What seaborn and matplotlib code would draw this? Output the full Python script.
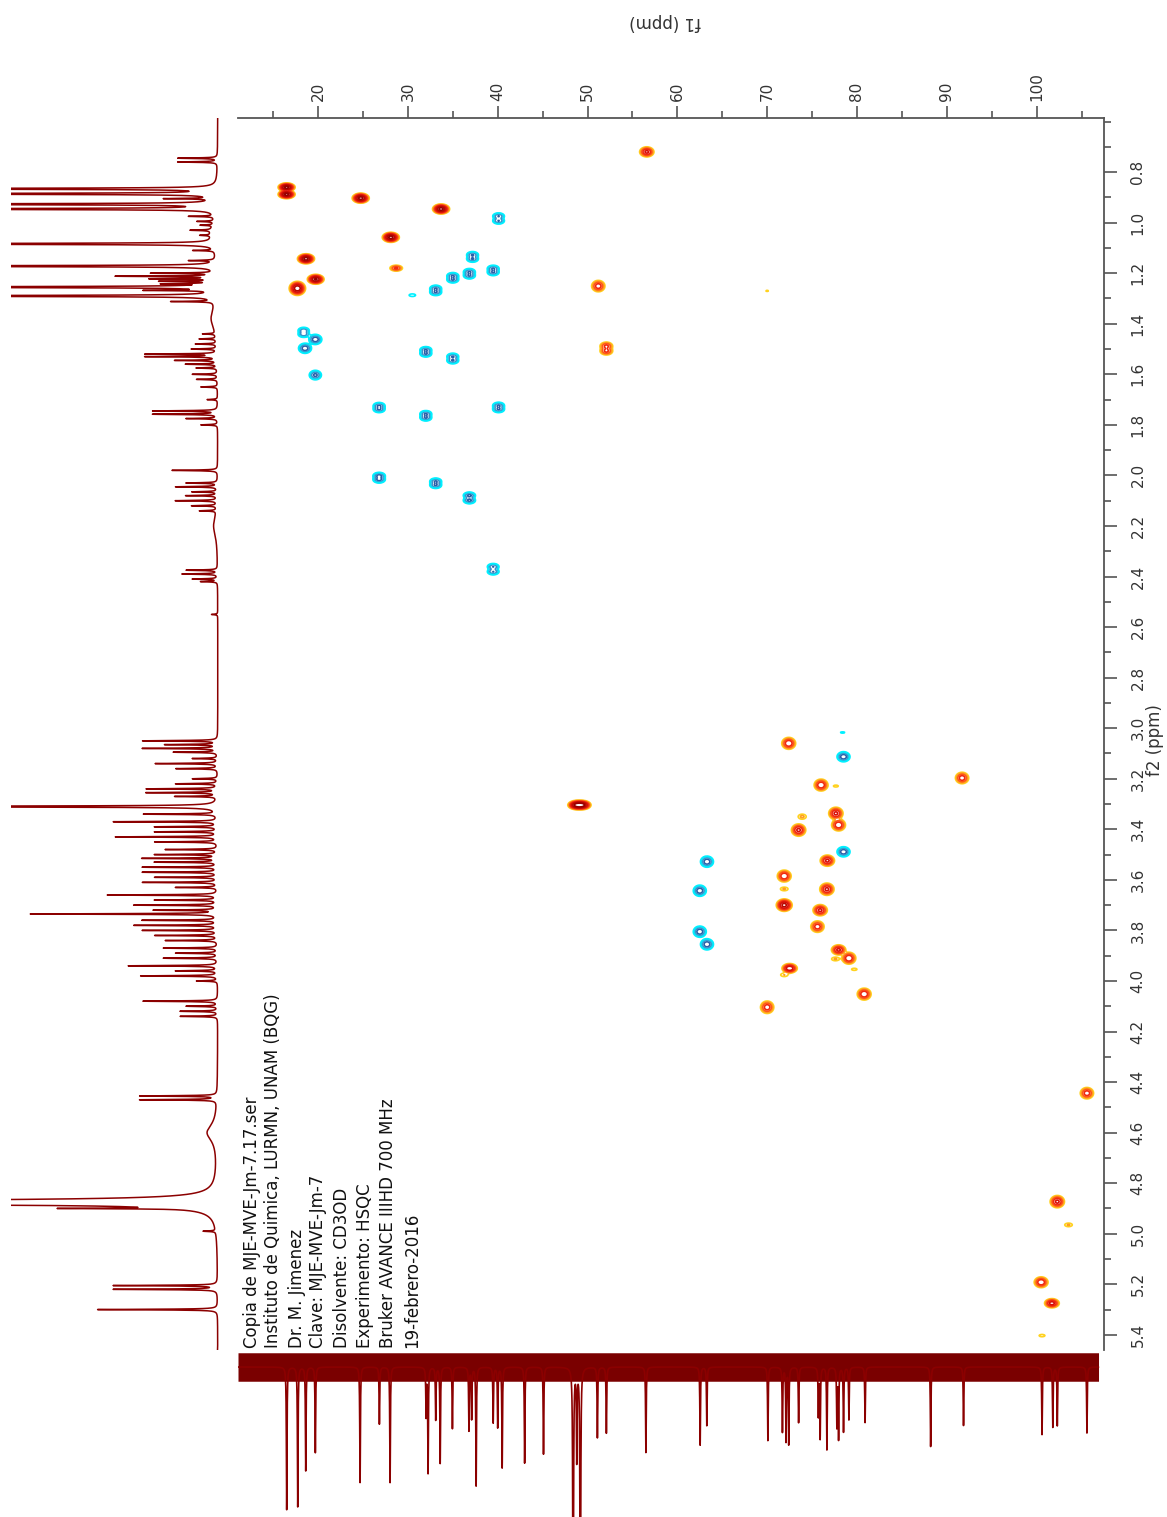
import numpy as np
import matplotlib
matplotlib.use("Agg")
import matplotlib.pyplot as plt
import matplotlib.ticker as mticker
import seaborn as sns

sns.set_style("white")
plt.rcParams["font.family"] = ["DejaVu Sans"]

# ==========================
# HSQC CROSS PEAKS
# ==========================

# positive phase (CH / CH3) : f1 13C ppm, f2 1H ppm, intensity, f2 linewidth
pos_f1 = [16.5, 16.5, 24.75, 33.7, 28.1, 28.7, 18.66, 19.74, 17.7, 51.2,
          52.1, 52.1, 56.6, 70.0, 48.7, 49.1, 49.5, 72.4, 91.7, 76.0,
          77.65, 73.9, 77.65, 77.95, 73.5, 76.7, 71.9, 71.9, 76.65, 71.9,
          75.9, 75.6, 77.95, 77.6, 79.1, 79.7, 72.5, 71.9, 80.8, 70.0,
          105.6, 102.3, 103.55, 100.5, 101.7, 100.6]
pos_f2 = [0.860, 0.888, 0.903, 0.946, 1.058, 1.180, 1.143, 1.224, 1.260, 1.251,
          1.488, 1.508, 0.720, 1.270, 3.304, 3.304, 3.304, 3.060, 3.197, 3.225,
          3.229, 3.350, 3.337, 3.383, 3.403, 3.524, 3.585, 3.636, 3.637, 3.700,
          3.720, 3.785, 3.877, 3.913, 3.910, 3.954, 3.950, 3.976, 4.052, 4.104,
          4.444, 4.873, 4.965, 5.192, 5.275, 5.403]
pos_amp = [40, 40, 40, 40, 40, 8, 40, 35, 30, 10,
           8, 8, 14, 1.3, 25, 30, 25, 12, 10, 12,
           1.6, 2.6, 14, 12, 14, 14, 12, 2.4, 14, 25,
           14, 10, 14, 2.4, 12, 1.7, 20, 2.2, 12, 10,
           10, 14, 2.4, 12, 16, 1.8]
pos_lw = [0.0065, 0.0065, 0.0075, 0.0075, 0.0075, 0.006, 0.0075, 0.0075, 0.011, 0.011,
          0.008, 0.008, 0.009, 0.006, 0.007, 0.007, 0.007, 0.011, 0.011, 0.011,
          0.005, 0.008, 0.011, 0.011, 0.011, 0.010, 0.011, 0.006, 0.011, 0.010,
          0.010, 0.011, 0.009, 0.006, 0.011, 0.005, 0.008, 0.006, 0.011, 0.012,
          0.011, 0.011, 0.006, 0.010, 0.008, 0.005]

# negative phase (CH2)
neg_f1 = [40.1, 40.1, 37.2, 37.2, 39.5, 39.5, 36.85, 36.85, 35.0, 35.0,
          33.1, 33.1, 30.5, 18.4, 18.4, 19.7, 18.55, 19.7, 32.0, 32.0,
          35.0, 35.0, 26.8, 26.8, 32.0, 32.0, 40.1, 40.1, 26.8, 26.8,
          33.1, 33.1, 36.85, 36.85, 39.5, 39.5, 78.4, 78.5, 78.5, 63.3,
          62.5, 62.5, 63.3]
neg_f2 = [0.974, 0.993, 1.127, 1.144, 1.181, 1.197, 1.194, 1.210, 1.210, 1.226,
          1.260, 1.276, 1.287, 1.426, 1.442, 1.462, 1.497, 1.603, 1.503, 1.519,
          1.529, 1.546, 1.724, 1.739, 1.756, 1.772, 1.723, 1.739, 2.001, 2.017,
          2.023, 2.039, 2.079, 2.099, 2.361, 2.381, 3.017, 3.113, 3.489, 3.528,
          3.643, 3.805, 3.855]
neg_amp = [-6, -6, -6, -6, -6, -6, -6, -6, -6, -6,
           -6, -6, -2.0, -5, -5, -9, -9, -7, -6, -6,
           -6, -6, -6, -6, -6, -6, -6, -6, -7, -7,
           -6, -6, -7, -7, -6, -6, -1.5, -9, -9, -9,
           -9, -9, -9]
neg_lw = [0.007] * 12 + [0.005, 0.007, 0.007, 0.010, 0.010, 0.010] + [0.007] * 18 + \
         [0.004, 0.010, 0.010, 0.011, 0.011, 0.011, 0.011]

# ==========================
# 1H PROJECTION (ppm, height)
# ==========================

h1_ppm = [0.745, 0.760,
          0.866, 0.886, 0.905, 0.927, 0.946, 0.975,
          0.995, 1.010, 1.030, 1.050,
          1.084, 1.110, 1.150, 1.172,
          1.200, 1.212, 1.222, 1.232, 1.242,
          1.255, 1.268, 1.290, 1.312,
          1.440, 1.460, 1.480, 1.500,
          1.520, 1.530, 1.545, 1.560, 1.575, 1.600, 1.620, 1.650,
          1.700, 1.745, 1.758, 1.775, 1.800,
          1.980, 2.030, 2.045, 2.065, 2.080, 2.100, 2.120, 2.140,
          2.375, 2.390, 2.410, 2.420,
          2.550,
          3.050, 3.065, 3.080, 3.095, 3.120, 3.140, 3.160, 3.200, 3.220, 3.240, 3.255, 3.270,
          3.310, 3.340, 3.370, 3.390, 3.410, 3.430, 3.450, 3.480, 3.500, 3.515,
          3.530, 3.550, 3.570, 3.590, 3.610, 3.630, 3.660, 3.680, 3.700, 3.720,
          3.735, 3.760, 3.780, 3.800, 3.820, 3.840, 3.870, 3.890, 3.910, 3.940,
          3.960, 3.980, 4.000, 4.080, 4.100, 4.120, 4.140,
          4.455, 4.470,
          4.885, 4.900,
          4.990,
          5.205, 5.220, 5.300,
          5.470]
h1_int = [0.19, 0.19,
          3, 3, 0.22, 3, 3, 0.12,
          0.08, 0.06, 0.10, 0.05,
          3, 0.10, 0.12, 3,
          0.30, 0.47, 0.30, 0.25, 0.22,
          3, 0.30, 3, 0.20,
          0.06, 0.08, 0.10, 0.12,
          0.34, 0.34, 0.20, 0.15, 0.10, 0.12, 0.10, 0.08,
          0.05, 0.31, 0.31, 0.15, 0.08,
          0.22, 0.15, 0.20, 0.12, 0.15, 0.20, 0.12, 0.08,
          0.15, 0.17, 0.12, 0.08,
          0.03,
          0.36, 0.25, 0.36, 0.21, 0.12, 0.30, 0.20, 0.12, 0.20, 0.34, 0.34, 0.20,
          3, 0.35, 0.50, 0.30, 0.30, 0.49, 0.30, 0.25, 0.30, 0.36,
          0.30, 0.36, 0.36, 0.30, 0.36, 0.20, 0.53, 0.30, 0.40, 0.30,
          0.90, 0.36, 0.40, 0.36, 0.30, 0.25, 0.26, 0.20, 0.26, 0.43,
          0.20, 0.37, 0.10, 0.36, 0.15, 0.18, 0.18,
          0.37, 0.37,
          0.85, 0.55,
          0.06,
          0.50, 0.50, 0.58,
          0.05]

# broad features (HDO, humps): ppm, height, half width
h1_broad_ppm = [4.875, 4.600, 1.380, 2.200, 1.040]
h1_broad_int = [4.0, 0.05, 0.03, 0.02, 0.03]
h1_broad_hw = [0.006, 0.04, 0.05, 0.05, 0.04]

# ==========================
# 13C PROJECTION (ppm, depth)
# ==========================

c13_ppm = [16.51, 17.74, 18.63, 19.70, 24.68, 26.83, 28.02, 32.03, 32.25, 33.1,
           33.6, 34.96, 36.8, 37.1, 37.6, 39.5, 40.0, 40.5, 43.0, 45.1,
           48.4, 48.8, 49.2,
           51.1, 52.1, 56.5, 62.54, 63.28, 70.08, 71.7, 72.1, 72.4, 73.5,
           75.7, 75.9, 76.65, 77.76, 77.95, 78.5, 79.1, 80.9, 88.2, 91.86,
           100.6, 101.8, 102.3, 105.6]
c13_int = [0.95, 0.93, 0.69, 0.57, 0.77, 0.38, 0.77, 0.32, 0.70, 0.35,
           0.64, 0.41, 0.42, 0.34, 0.79, 0.37, 0.40, 0.67, 0.64, 0.58,
           2.5, 0.6, 2.5,
           0.47, 0.44, 0.57, 0.52, 0.39, 0.49, 0.43, 0.49, 0.51, 0.37,
           0.32, 0.47, 0.55, 0.39, 0.47, 0.43, 0.35, 0.37, 0.53, 0.39,
           0.45, 0.40, 0.39, 0.44]

info_lines = ["Copia de MJE-MVE-Jm-7.17.ser",
              "Instituto de Quimica, LURMN, UNAM (BQG)",
              "Dr. M. Jimenez",
              "Clave: MJE-MVE-Jm-7",
              "Disolvente: CD3OD",
              "Experimento: HSQC",
              "Bruker AVANCE IIIHD 700 MHz",
              "19-febrero-2016"]

# ==========================
# AXIS RANGES
# ==========================

F1_MIN, F1_MAX = 11.09, 107.5
F2_MIN, F2_MAX = 0.586, 5.46
LINE = "#8b0000"

# ==========================
# FIGURE
# ==========================

W, H = 1167, 1517
fig = plt.figure(figsize=(W / 100, H / 100), dpi=100)


def box(x0, y0, x1, y1):
    return [x0 / W, 1 - y1 / H, (x1 - x0) / W, (y1 - y0) / H]


ax = fig.add_axes(box(238, 118, 1104, 1350))
ax_h = fig.add_axes(box(11, 118, 223, 1350))
ax_c = fig.add_axes(box(238, 1340, 1104, 1517))
for a in (ax, ax_h, ax_c):
    a.patch.set_visible(False)

# ---- 2D contours
f1 = np.arange(F1_MIN - 0.2, F1_MAX + 0.2, 0.08)
f2 = np.arange(F2_MIN - 0.01, F2_MAX + 0.01, 0.0025)
SX = 0.36
Z = np.zeros((len(f2), len(f1)))
for c, h, a, s in zip(pos_f1 + neg_f1, pos_f2 + neg_f2, pos_amp + neg_amp, pos_lw + neg_lw):
    gx = np.exp(-0.5 * ((f1 - c) / SX) ** 2)
    gy = np.exp(-0.5 * ((f2 - h) / s) ** 2)
    Z += a * np.outer(gy, gx)

pos_levels = [1.2, 2.2, 4, 7, 12, 20, 32]
pos_colors = ["#ffd21f", "#ffa020", "#ff5a14", "#f02a10", "#d81008", "#b80800", "#990000"]
neg_levels = [-6, -3.5, -2, -1.2]
neg_colors = ["#2a5fa8", "#3a8fc8", "#18c8ec", "#00f0ff"]
ax.contour(f1, f2, Z, levels=pos_levels, colors=pos_colors, linewidths=1.2)
ax.contour(f1, f2, Z, levels=neg_levels, colors=neg_colors, linewidths=1.2)

ax.set_xlim(F1_MIN, F1_MAX)
ax.set_ylim(F2_MAX, F2_MIN)

for side in ("left", "bottom"):
    ax.spines[side].set_visible(False)
for side in ("top", "right"):
    ax.spines[side].set_visible(True)
    ax.spines[side].set_color("#555555")
    ax.spines[side].set_linewidth(1.3)

ax.xaxis.set_major_locator(mticker.MultipleLocator(10))
ax.xaxis.set_minor_locator(mticker.MultipleLocator(5))
ax.xaxis.set_major_formatter(mticker.FormatStrFormatter("%d"))
ax.yaxis.set_major_locator(mticker.FixedLocator(np.round(np.arange(0.8, 5.41, 0.2), 1)))
ax.yaxis.set_minor_locator(mticker.FixedLocator(np.round(np.arange(0.6, 5.45, 0.1), 1)))
ax.yaxis.set_major_formatter(mticker.FormatStrFormatter("%.1f"))

ax.tick_params(axis="x", which="both", top=True, bottom=False, labeltop=True, labelbottom=False,
               direction="out", colors="#555555", labelcolor="#333333", labelsize=11,
               labelrotation=90, pad=3, width=1.2)
ax.tick_params(axis="y", which="both", right=True, left=False, labelright=True, labelleft=False,
               direction="out", colors="#555555", labelcolor="#333333", labelsize=11,
               labelrotation=90, pad=10, width=1.2)
ax.tick_params(which="major", length=9)
ax.tick_params(which="minor", length=5)
for lab in ax.get_yticklabels():
    lab.set_va("center")

fig.text(665 / W, 1 - 22 / H, "f1 (ppm)", rotation=180, ha="center", va="center",
         fontsize=12, color="#333333")
fig.text(1155 / W, 1 - 740 / H, "f2 (ppm)", rotation=90, ha="center", va="center",
         fontsize=12, color="#333333")

# ---- 1H projection (left)
h_grid = np.arange(F2_MIN, F2_MAX, 0.0005)
h_sig = np.zeros_like(h_grid)
HW = 0.0015
for p, i in zip(h1_ppm, h1_int):
    h_sig += i * HW ** 2 / (HW ** 2 + (h_grid - p) ** 2)
for p, i, w in zip(h1_broad_ppm, h1_broad_int, h1_broad_hw):
    h_sig += i * w ** 2 / (w ** 2 + (h_grid - p) ** 2)

sns.lineplot(x=h_sig, y=h_grid, orient="y", sort=False, estimator=None,
             color=LINE, linewidth=1.1, ax=ax_h)
ax_h.set_xlim(1.0, -0.025)
ax_h.set_ylim(F2_MAX, F2_MIN)
ax_h.axis("off")

# ---- 13C projection (bottom)
c_grid = np.arange(F1_MIN, 106.9, 0.01)
c_sig = np.zeros_like(c_grid)
CW = 0.04
for p, i in zip(c13_ppm, c13_int):
    c_sig += i * CW ** 2 / (CW ** 2 + (c_grid - p) ** 2)

ax_c.fill_between(c_grid, -0.095, 0.095, color="#7a0000", linewidth=0)
sns.lineplot(x=c_grid, y=c_sig, sort=False, estimator=None,
             color=LINE, linewidth=1.2, ax=ax_c)
ax_c.set_xlim(F1_MIN, F1_MAX)
ax_c.set_ylim(1.0, -0.18)
ax_c.axis("off")

# ---- acquisition info
col_x = [251.7, 273.3, 296.7, 318.3, 341.7, 365.0, 388.3, 411.7]
for x, line in zip(col_x, info_lines):
    fig.text(x / W, 1 - 1348 / H, line, rotation=90, ha="center", va="bottom",
             fontsize=12, color="#111111")

fig.savefig("out.png", dpi=100)
